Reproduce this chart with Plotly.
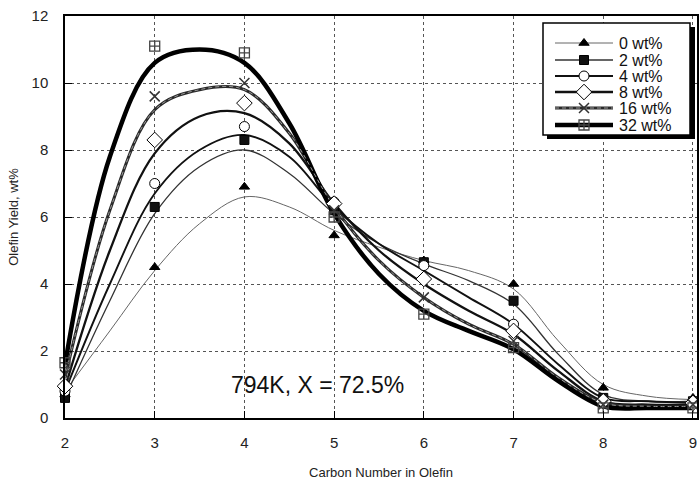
import plotly.graph_objects as go

# Measured data points (marker positions)
carbon = [2, 3, 4, 5, 6, 7, 8, 9]
y_0 = [0.7, 4.5, 6.9, 5.45, 4.7, 4.0, 0.9, 0.6]
y_2 = [0.6, 6.3, 8.3, 6.2, 4.65, 3.5, 0.6, 0.5]
y_4 = [0.8, 7.0, 8.7, 6.45, 4.55, 2.8, 0.55, 0.5]
y_8 = [0.95, 8.3, 9.4, 6.4, 4.15, 2.6, 0.5, 0.45]
y_16 = [1.3, 9.6, 10.0, 6.2, 3.6, 2.3, 0.4, 0.4]
y_32 = [1.65, 11.1, 10.9, 6.0, 3.1, 2.1, 0.3, 0.3]

# Smooth fitted curves
cx = [2, 2.5, 3, 3.5, 4, 4.5, 5, 5.5, 6, 6.5, 7, 7.5, 8, 8.5, 9]
c_0 = [0.8, 2.6, 4.4, 5.8, 6.6, 6.3, 5.6, 5.1, 4.7, 4.4, 3.85, 2.3, 1.0, 0.65, 0.55]
c_2 = [0.6, 3.5, 6.1, 7.5, 8.0, 7.3, 6.1, 5.2, 4.6, 4.1, 3.4, 1.9, 0.7, 0.5, 0.5]
c_4 = [0.8, 4.0, 6.7, 8.0, 8.45, 7.8, 6.3, 5.2, 4.4, 3.6, 2.8, 1.6, 0.6, 0.5, 0.45]
c_8 = [0.9, 5.0, 7.9, 9.0, 9.1, 8.2, 6.4, 5.0, 4.0, 3.2, 2.5, 1.4, 0.5, 0.4, 0.4]
c_16 = [1.2, 6.2, 9.2, 9.8, 9.8, 8.5, 6.3, 4.7, 3.6, 2.8, 2.2, 1.2, 0.45, 0.35, 0.35]
c_32 = [1.6, 7.8, 10.6, 11.0, 10.6, 8.8, 6.1, 4.3, 3.2, 2.6, 2.05, 1.1, 0.35, 0.3, 0.3]

labels = ["0 wt%", "2 wt%", "4 wt%", "8 wt%", "16 wt%", "32 wt%"]
x_ticks = [2, 3, 4, 5, 6, 7, 8, 9]
y_ticks = [0, 2, 4, 6, 8, 10, 12]

X_RANGE = [2, 9.045]
Y_RANGE = [0, 12]

points = [y_0, y_2, y_4, y_8, y_16, y_32]
curves = [c_0, c_2, c_4, c_8, c_16, c_32]
line_styles = [
    dict(color="#666666", width=1),
    dict(color="#333333", width=1.3),
    dict(color="#111111", width=1.9),
    dict(color="#111111", width=2.3),
    dict(color="#2a2a2a", width=3),
    dict(color="#000000", width=4.5),
]
marker_styles = [
    dict(symbol="triangle-up", size=9, color="black", line=dict(color="black", width=1)),
    dict(symbol="square", size=9, color="#111111", line=dict(color="black", width=1)),
    dict(symbol="circle", size=10, color="white", line=dict(color="black", width=1)),
    dict(symbol="diamond", size=12, color="white", line=dict(color="black", width=1)),
    dict(symbol="x-thin-open", size=10, color="#333333", line=dict(color="#333333", width=1.5)),
    dict(symbol="square-cross-open", size=10, color="#444444", line=dict(color="#444444", width=1.3)),
]

# plot-area pixel frame (for placing the legend box)
PX_L, PX_R, PX_T, PX_B = 65, 697, 16, 418


def px2x(px):
    return X_RANGE[0] + (px - PX_L) * (X_RANGE[1] - X_RANGE[0]) / (PX_R - PX_L)


def py2y(py):
    return Y_RANGE[0] + (PX_B - py) * (Y_RANGE[1] - Y_RANGE[0]) / (PX_B - PX_T)


fig = go.Figure()
for lab, cv, ls in zip(labels, curves, line_styles):
    fig.add_trace(go.Scatter(x=cx, y=cv, mode="lines", line=dict(shape="spline", smoothing=1.0, **ls),
                             showlegend=False, hoverinfo="skip", name=lab))
# dashed texture on the 16 wt% curve
fig.add_trace(go.Scatter(x=cx, y=c_16, mode="lines",
                         line=dict(shape="spline", smoothing=1.0, color="#9a9a9a", width=1, dash="4px,3px"),
                         showlegend=False, hoverinfo="skip"))
for lab, pv, ms in zip(labels, points, marker_styles):
    fig.add_trace(go.Scatter(x=carbon, y=pv, mode="markers", marker=ms, showlegend=False,
                             cliponaxis=False, name=lab))

# ---- hand-drawn legend ----
leg_y = [43, 60, 76, 92, 108, 125]
fig.add_shape(type="rect", xref="x", yref="y", x0=px2x(547), x1=px2x(695), y0=py2y(27), y1=py2y(139),
              fillcolor="black", line=dict(width=0), layer="between")
fig.add_shape(type="rect", xref="x", yref="y", x0=px2x(543), x1=px2x(690), y0=py2y(23), y1=py2y(135),
              fillcolor="white", line=dict(color="black", width=1.5), layer="between")
for lab, ly, ls, ms in zip(labels, leg_y, line_styles, marker_styles):
    fig.add_trace(go.Scatter(x=[px2x(555), px2x(613)], y=[py2y(ly)] * 2, mode="lines", line=ls,
                             showlegend=False, hoverinfo="skip"))
    if lab == "16 wt%":
        fig.add_trace(go.Scatter(x=[px2x(555), px2x(613)], y=[py2y(ly)] * 2, mode="lines",
                                 line=dict(color="#9a9a9a", width=1, dash="4px,3px"),
                                 showlegend=False, hoverinfo="skip"))
    fig.add_trace(go.Scatter(x=[px2x(584)], y=[py2y(ly)], mode="markers", marker=ms,
                             showlegend=False, hoverinfo="skip"))
    fig.add_annotation(x=px2x(617), y=py2y(ly), text=lab, showarrow=False,
                       xanchor="left", yanchor="middle",
                       font=dict(family="Liberation Sans, Arial", size=16, color="#111111"))

fig.add_annotation(x=4.82, y=0.98, text="794K, X = 72.5%", showarrow=False,
                   font=dict(family="Liberation Sans, Arial", size=23, color="#111111"))

fig.update_layout(
    width=699, height=480,
    margin=dict(l=PX_L, r=699 - PX_R, t=PX_T, b=480 - PX_B),
    plot_bgcolor="white", paper_bgcolor="white",
    font=dict(family="Liberation Sans, Arial", size=15, color="#222222"),
    showlegend=False,
    xaxis=dict(range=X_RANGE, tickvals=x_ticks, ticktext=[str(v) for v in x_ticks],
               showline=True, linecolor="black", linewidth=1.5, mirror=True, automargin=False,
               ticks="inside", ticklen=7, tickcolor="black", ticklabelstandoff=10,
               showgrid=True, gridcolor="#555555", griddash="dot", gridwidth=1.2,
               zeroline=False,
               title=dict(text="Carbon Number in Olefin", font=dict(size=13), standoff=20)),
    yaxis=dict(range=Y_RANGE, tickvals=y_ticks, ticktext=[str(v) for v in y_ticks],
               showline=True, linecolor="black", linewidth=1.5, mirror=True, automargin=False,
               ticks="inside", ticklen=7, tickcolor="black", ticklabelstandoff=12,
               showgrid=True, gridcolor="#555555", griddash="dot", gridwidth=1.2,
               zeroline=False,
               title=dict(text="Olefin Yield, wt%", font=dict(size=13), standoff=10)),
)

fig.write_html("out.html")
